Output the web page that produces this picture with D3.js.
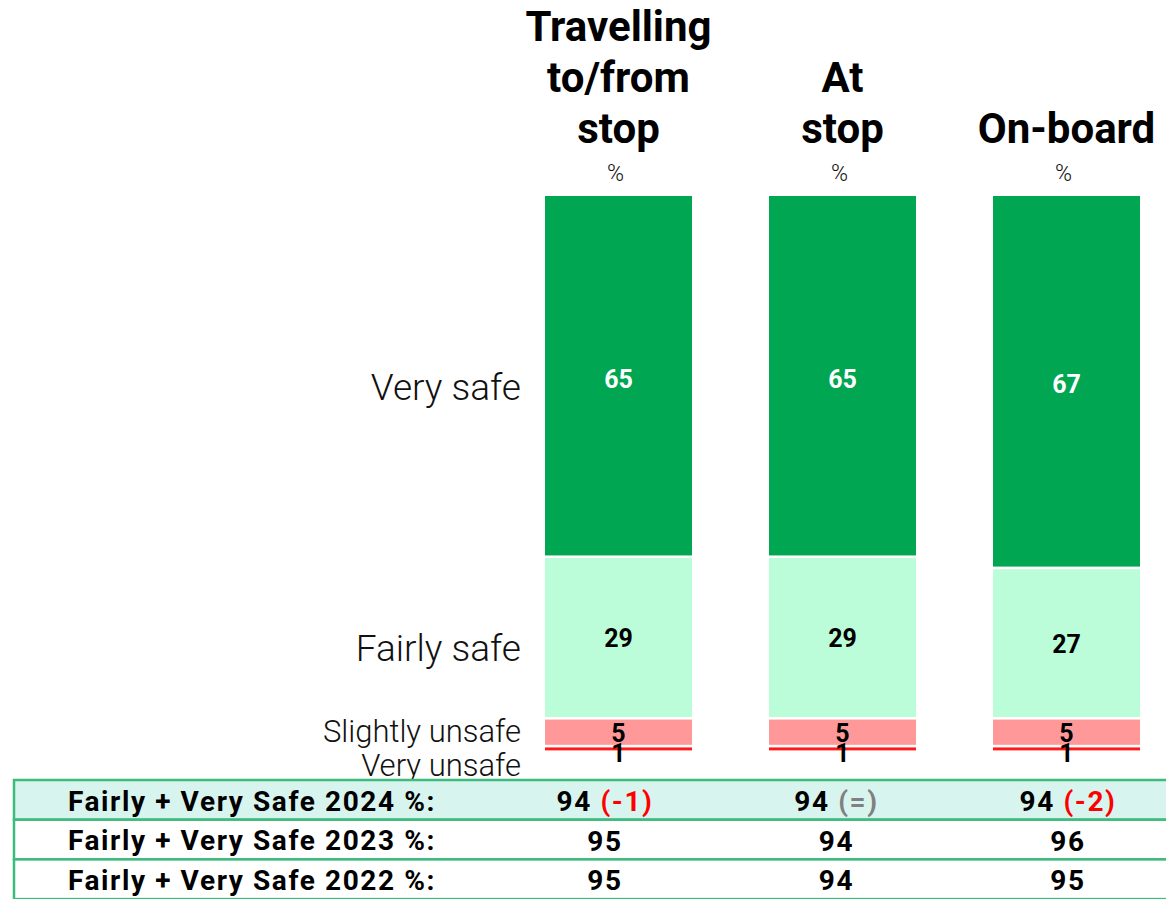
<!DOCTYPE html>
<html>
<head>
<meta charset="utf-8">
<script src="https://cdn.jsdelivr.net/npm/d3@7"></script>
<style>
  html, body { margin: 0; padding: 0; background: #fff; }
  svg { display: block; }
  text { font-family: Roboto, "Noto Sans", sans-serif; }
</style>
</head>
<body>
<svg id="chart" width="1166" height="899"></svg>
<script>
// ---- data ----
const categories = ["Travelling to/from stop", "At stop", "On-board"];
const headerLines = [["Travelling", "to/from", "stop"], ["At", "stop"], ["On-board"]];
const levels = ["Very safe", "Fairly safe", "Slightly unsafe", "Very unsafe"];
const verySafe = [65, 65, 67];
const fairlySafe = [29, 29, 27];
const slightlyUnsafe = [5, 5, 5];
const veryUnsafe = [1, 1, 1];
const tableLabels = ["Fairly + Very Safe 2024 %:", "Fairly + Very Safe 2023 %:", "Fairly + Very Safe 2022 %:"];
const safe2024 = [94, 94, 94];
const change2024 = ["(-1)", "(=)", "(-2)"];
const safe2023 = [95, 94, 96];
const safe2022 = [95, 94, 95];

const levelColors = ["#00a651", "#bbfdd9", "#ff9999", "#ff1a1a"];
const levelText = ["#ffffff", "#000000", "#000000", "#000000"];

const series = [verySafe, fairlySafe, slightlyUnsafe, veryUnsafe];

const svg = d3.select("#chart");

const x = d3.scaleBand().domain(categories).range([506.5, 1178.5]).paddingInner(0.34375).paddingOuter(0.171875);
const y = d3.scaleLinear().domain([0, 100]).range([196, 753]);

// stacked data
const stacked = categories.map((c, i) => {
  let cum = 0;
  return series.map((s, k) => {
    const d = { cat: c, level: levels[k], k, v: s[i], y0: cum, y1: cum + s[i] };
    cum += s[i];
    return d;
  });
});

const gap = 2.6;
const barG = svg.append("g");
stacked.forEach(col => {
  barG.selectAll(null).data(col).enter().append("rect")
    .attr("x", d => x(d.cat))
    .attr("width", x.bandwidth())
    .attr("y", d => y(d.y0))
    .attr("height", d => Math.max(0, y(d.y1) - y(d.y0) - gap))
    .attr("fill", d => levelColors[d.k]);
});

// value labels
const valOffset = [2, 0, 0, 3];
stacked.forEach(col => {
  barG.selectAll(null).data(col).enter().append("text")
    .attr("x", d => x(d.cat) + x.bandwidth() / 2)
    .attr("y", d => (y(d.y0) + y(d.y1)) / 2 + valOffset[d.k])
    .attr("text-anchor", "middle")
    .attr("dominant-baseline", "central")
    .attr("font-weight", 700)
    .attr("font-size", 25)
    .attr("fill", d => levelText[d.k])
    .text(d => d.v);
});

// category (level) labels on left, positioned from first column
const labelSizes = [37, 37, 31, 31];
const labelOffsets = [10, 10, -2, 15];
svg.append("g").selectAll("text").data(stacked[0]).enter().append("text")
  .attr("x", x(categories[0]) - 24)
  .attr("y", d => (y(d.y0) + y(d.y1)) / 2 + labelOffsets[d.k])
  .attr("text-anchor", "end")
  .attr("dominant-baseline", "central")
  .attr("font-weight", 300)
  .attr("font-size", d => labelSizes[d.k])
  .attr("fill", "#111")
  .text(d => d.level);

// headers
const lineH = 51;
const lastBaseline = 143;
categories.forEach((c, i) => {
  const lines = headerLines[i];
  const g = svg.append("g");
  lines.forEach((l, j) => {
    g.append("text")
      .attr("x", x(c) + x.bandwidth() / 2)
      .attr("y", lastBaseline - (lines.length - 1 - j) * lineH)
      .attr("text-anchor", "middle")
      .attr("font-weight", 700)
      .attr("font-size", 42)
      .attr("fill", "#000")
      .text(l);
  });
  g.append("text")
    .attr("x", x(c) + x.bandwidth() / 2 - 3)
    .attr("y", 181)
    .attr("text-anchor", "middle")
    .attr("font-weight", 300)
    .attr("font-size", 23)
    .attr("fill", "#111")
    .text("%");
});

// table
const tx = d3.scaleBand().domain(categories).range([489.25, 1183.75]);
const tableG = svg.append("g");
const border = "#3dbb7d";
const rowH = 39.7;
tableLabels.forEach((lab, r) => {
  const yy = 780 + r * rowH;
  tableG.append("rect")
    .attr("x", 14).attr("y", yy)
    .attr("width", 1166).attr("height", rowH)
    .attr("fill", r === 0 ? "#d8f4ee" : "#ffffff")
    .attr("stroke", border).attr("stroke-width", 2.5);
});
const rowsVals = [safe2024, safe2023, safe2022];
const tFont = 28;
const tSpacing = 1.6;
tableLabels.forEach((lab, r) => {
  const cy = 780 + r * rowH + 21;
  tableG.append("text")
    .attr("x", 252).attr("y", cy)
    .attr("text-anchor", "middle")
    .attr("dominant-baseline", "central")
    .attr("font-weight", 700)
    .attr("font-size", tFont)
    .attr("letter-spacing", tSpacing)
    .attr("fill", "#000")
    .text(lab);
  categories.forEach((c, i) => {
    const t = tableG.append("text")
      .attr("x", tx(c) + tx.bandwidth() / 2).attr("y", cy)
      .attr("text-anchor", "middle")
      .attr("dominant-baseline", "central")
      .attr("font-weight", 700)
      .attr("font-size", tFont)
      .attr("letter-spacing", tSpacing)
      .attr("fill", "#000");
    t.append("tspan").text(rowsVals[r][i]);
    if (r === 0) {
      t.append("tspan").text(" ");
      t.append("tspan")
        .attr("fill", change2024[i] === "(=)" ? "#808080" : "#ff0000")
        .text(change2024[i]);
    }
  });
});
</script>
</body>
</html>
